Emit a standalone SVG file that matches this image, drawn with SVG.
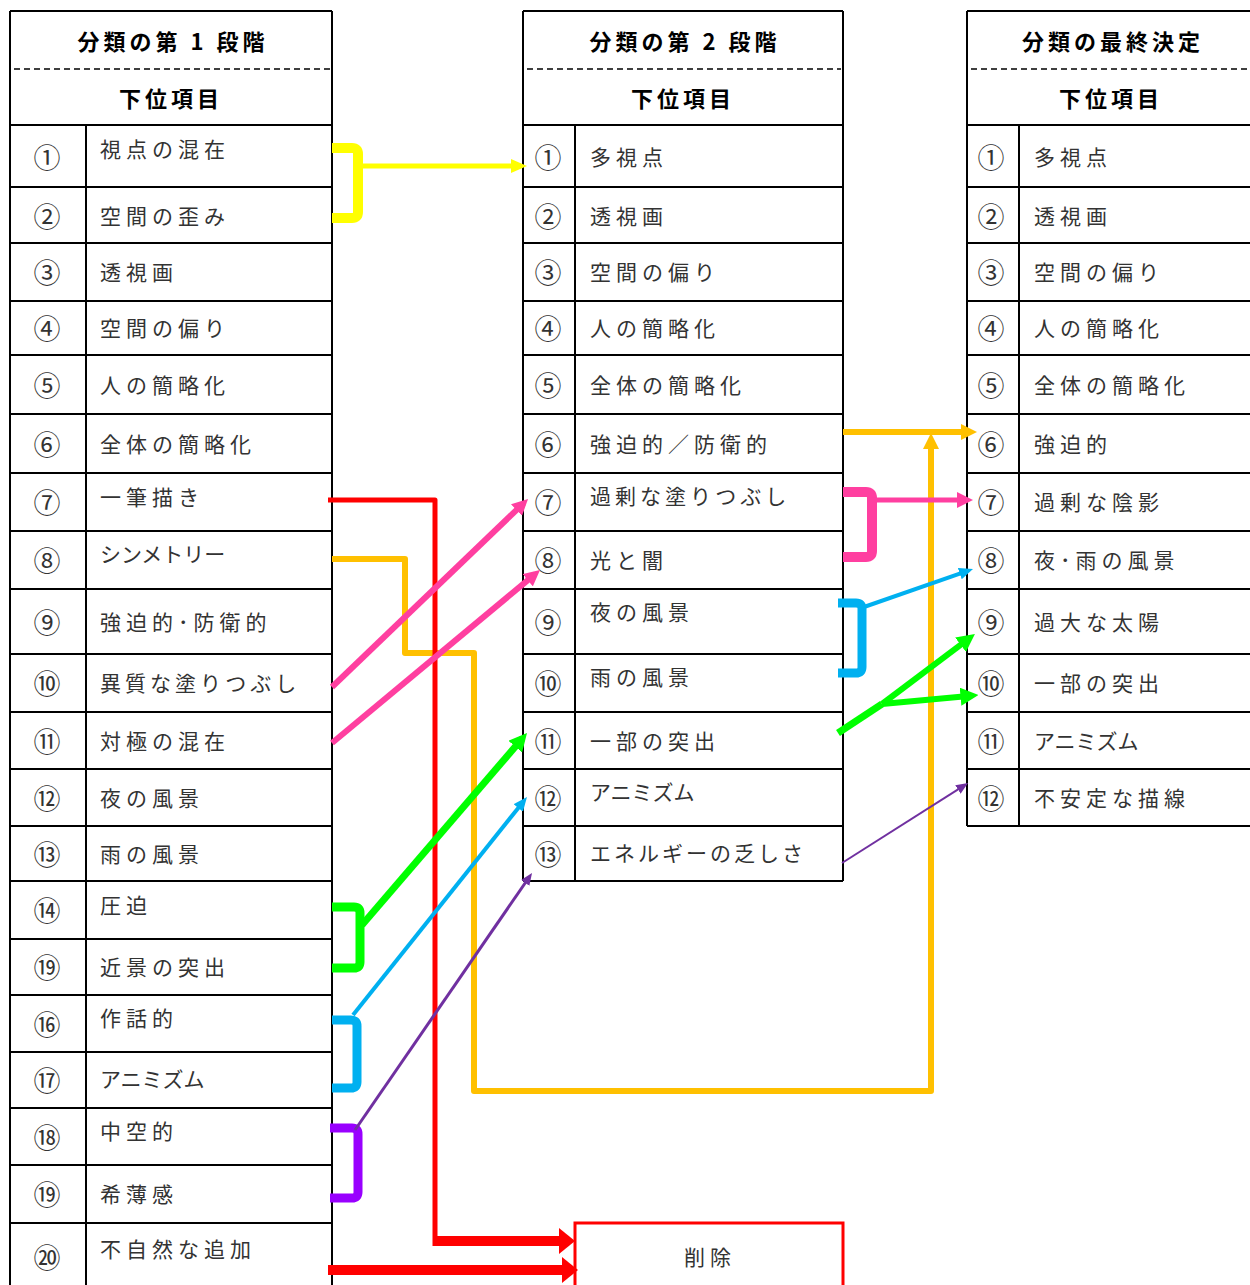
<svg xmlns="http://www.w3.org/2000/svg" width="1250" height="1285" viewBox="0 0 1250 1285">
<style>
.grid{fill:none;stroke:#000;stroke-width:2}
.dash{fill:none;stroke:#000;stroke-width:1.6;stroke-dasharray:6 4}
.hd{font-family:'Noto Sans CJK JP','Noto Sans CJK SC',sans-serif;font-size:22px;font-weight:bold;letter-spacing:4px;text-anchor:middle;dominant-baseline:central;fill:#000}
.tx{font-family:'Noto Sans CJK JP','Noto Sans CJK SC',sans-serif;font-size:21px;letter-spacing:5px;dominant-baseline:central;fill:#333}
.kn{letter-spacing:0px}
.k3{letter-spacing:3px}
.k4{letter-spacing:4px}
.nm{font-family:'Noto Sans CJK JP','Noto Sans CJK SC',sans-serif;font-size:27px;text-anchor:middle;dominant-baseline:central;fill:#333}
.c{fill:none;stroke-linejoin:round}
</style>
<defs>
<marker id="mY" viewBox="0 0 10 10" refX="6" refY="5" markerUnits="userSpaceOnUse" markerWidth="16" markerHeight="14" orient="auto" preserveAspectRatio="none"><path d="M0,0 L10,5 L0,10 z" fill="#FFFF00"/></marker>
<marker id="mR" viewBox="0 0 10 10" refX="6" refY="5" markerUnits="userSpaceOnUse" markerWidth="16" markerHeight="26" orient="auto" preserveAspectRatio="none"><path d="M0,0 L10,5 L0,10 z" fill="#FF0000"/></marker>
<marker id="mO" viewBox="0 0 10 10" refX="6" refY="5" markerUnits="userSpaceOnUse" markerWidth="16" markerHeight="16" orient="auto" preserveAspectRatio="none"><path d="M0,0 L10,5 L0,10 z" fill="#FFC000"/></marker>
<marker id="mP" viewBox="0 0 10 10" refX="6" refY="5" markerUnits="userSpaceOnUse" markerWidth="16" markerHeight="16" orient="auto" preserveAspectRatio="none"><path d="M0,0 L10,5 L0,10 z" fill="#FF3FA0"/></marker>
<marker id="mB" viewBox="0 0 10 10" refX="6" refY="5" markerUnits="userSpaceOnUse" markerWidth="14" markerHeight="12" orient="auto" preserveAspectRatio="none"><path d="M0,0 L10,5 L0,10 z" fill="#00B0F0"/></marker>
<marker id="mG" viewBox="0 0 10 10" refX="6" refY="5" markerUnits="userSpaceOnUse" markerWidth="18" markerHeight="18" orient="auto" preserveAspectRatio="none"><path d="M0,0 L10,5 L0,10 z" fill="#00FF00"/></marker>
<marker id="mV" viewBox="0 0 10 10" refX="6" refY="5" markerUnits="userSpaceOnUse" markerWidth="12" markerHeight="10" orient="auto" preserveAspectRatio="none"><path d="M0,0 L10,5 L0,10 z" fill="#7030A0"/></marker>
</defs>
<rect width="1250" height="1285" fill="#fff"/>

<g id="table1">
<path class="grid" d="M10,11 H332 M10,11 V1285 M332,11 V1285 M10,125 H332 M86,125 V1285 M10,187 H332 M10,243 H332 M10,301 H332 M10,355 H332 M10,414 H332 M10,473 H332 M10,531 H332 M10,589 H332 M10,654 H332 M10,712 H332 M10,769 H332 M10,826 H332 M10,881 H332 M10,939 H332 M10,995 H332 M10,1052 H332 M10,1108 H332 M10,1165 H332 M10,1223 H332"/>
<path class="dash" d="M14,69 H330"/>
<text class="hd" x="173" y="40">分類の第 1 段階</text>
<text class="hd" x="171" y="97">下位項目</text>
<g id="t1r1"><text class="nm" x="47" y="156">①</text><text class="tx" x="100" y="148">視点の混在</text></g>
<g id="t1r2"><text class="nm" x="47" y="215">②</text><text class="tx" x="100" y="215">空間の歪み</text></g>
<g id="t1r3"><text class="nm" x="47" y="271">③</text><text class="tx" x="100" y="271">透視画</text></g>
<g id="t1r4"><text class="nm" x="47" y="327">④</text><text class="tx" x="100" y="327">空間の偏り</text></g>
<g id="t1r5"><text class="nm" x="47" y="384">⑤</text><text class="tx" x="100" y="384">人の簡略化</text></g>
<g id="t1r6"><text class="nm" x="47" y="443">⑥</text><text class="tx" x="100" y="443">全体の簡略化</text></g>
<g id="t1r7"><text class="nm" x="47" y="501">⑦</text><text class="tx" x="100" y="496">一筆描き</text></g>
<g id="t1r8"><text class="nm" x="47" y="559">⑧</text><text class="tx kn" x="100" y="553">シンメトリー</text></g>
<g id="t1r9"><text class="nm" x="47" y="621">⑨</text><text class="tx" x="100" y="621">強迫的･防衛的</text></g>
<g id="t1r10"><text class="nm" x="47" y="682">⑩</text><text class="tx k4" x="100" y="682">異質な塗りつぶし</text></g>
<g id="t1r11"><text class="nm" x="47" y="740">⑪</text><text class="tx" x="100" y="740">対極の混在</text></g>
<g id="t1r12"><text class="nm" x="47" y="797">⑫</text><text class="tx" x="100" y="797">夜の風景</text></g>
<g id="t1r13"><text class="nm" x="47" y="853">⑬</text><text class="tx" x="100" y="853">雨の風景</text></g>
<g id="t1r14"><text class="nm" x="47" y="909">⑭</text><text class="tx" x="100" y="904">圧迫</text></g>
<g id="t1r15"><text class="nm" x="47" y="966">⑲</text><text class="tx" x="100" y="966">近景の突出</text></g>
<g id="t1r16"><text class="nm" x="47" y="1023">⑯</text><text class="tx" x="100" y="1017">作話的</text></g>
<g id="t1r17"><text class="nm" x="47" y="1079">⑰</text><text class="tx kn" x="100" y="1078">アニミズム</text></g>
<g id="t1r18"><text class="nm" x="47" y="1136">⑱</text><text class="tx" x="100" y="1130">中空的</text></g>
<g id="t1r19"><text class="nm" x="47" y="1193">⑲</text><text class="tx" x="100" y="1193">希薄感</text></g>
<g id="t1r20"><text class="nm" x="47" y="1256">⑳</text><text class="tx" x="100" y="1248">不自然な追加</text></g>
</g>

<g id="table2">
<path class="grid" d="M523,11 H843 M523,11 V881 M843,11 V881 M523,125 H843 M575,125 V881 M523,187 H843 M523,243 H843 M523,301 H843 M523,355 H843 M523,414 H843 M523,473 H843 M523,531 H843 M523,589 H843 M523,654 H843 M523,712 H843 M523,769 H843 M523,826 H843 M523,881 H843"/>
<path class="dash" d="M527,69 H841"/>
<text class="hd" x="685" y="40">分類の第 2 段階</text>
<text class="hd" x="683" y="97">下位項目</text>
<g id="t2r1"><text class="nm" x="548" y="156">①</text><text class="tx" x="590" y="156">多視点</text></g>
<g id="t2r2"><text class="nm" x="548" y="215">②</text><text class="tx" x="590" y="215">透視画</text></g>
<g id="t2r3"><text class="nm" x="548" y="271">③</text><text class="tx" x="590" y="271">空間の偏り</text></g>
<g id="t2r4"><text class="nm" x="548" y="327">④</text><text class="tx" x="590" y="327">人の簡略化</text></g>
<g id="t2r5"><text class="nm" x="548" y="384">⑤</text><text class="tx" x="590" y="384">全体の簡略化</text></g>
<g id="t2r6"><text class="nm" x="548" y="443">⑥</text><text class="tx" x="590" y="443">強迫的／防衛的</text></g>
<g id="t2r7"><text class="nm" x="548" y="501">⑦</text><text class="tx k4" x="590" y="495">過剰な塗りつぶし</text></g>
<g id="t2r8"><text class="nm" x="548" y="559">⑧</text><text class="tx" x="590" y="559">光と闇</text></g>
<g id="t2r9"><text class="nm" x="548" y="621">⑨</text><text class="tx" x="590" y="611">夜の風景</text></g>
<g id="t2r10"><text class="nm" x="548" y="682">⑩</text><text class="tx" x="590" y="676">雨の風景</text></g>
<g id="t2r11"><text class="nm" x="548" y="740">⑪</text><text class="tx" x="590" y="740">一部の突出</text></g>
<g id="t2r12"><text class="nm" x="548" y="797">⑫</text><text class="tx kn" x="590" y="791">アニミズム</text></g>
<g id="t2r13"><text class="nm" x="548" y="853">⑬</text><text class="tx k3" x="590" y="852">エネルギーの乏しさ</text></g>
</g>

<g id="table3">
<path class="grid" d="M967,11 H1250 M967,11 V826 M967,125 H1250 M1019,125 V826 M967,187 H1250 M967,243 H1250 M967,301 H1250 M967,355 H1250 M967,414 H1250 M967,473 H1250 M967,531 H1250 M967,589 H1250 M967,654 H1250 M967,712 H1250 M967,769 H1250 M967,826 H1250"/>
<path class="dash" d="M971,69 H1250"/>
<text class="hd" x="1113" y="40">分類の最終決定</text>
<text class="hd" x="1111" y="97">下位項目</text>
<g id="t3r1"><text class="nm" x="991" y="156">①</text><text class="tx" x="1034" y="156">多視点</text></g>
<g id="t3r2"><text class="nm" x="991" y="215">②</text><text class="tx" x="1034" y="215">透視画</text></g>
<g id="t3r3"><text class="nm" x="991" y="271">③</text><text class="tx" x="1034" y="271">空間の偏り</text></g>
<g id="t3r4"><text class="nm" x="991" y="327">④</text><text class="tx" x="1034" y="327">人の簡略化</text></g>
<g id="t3r5"><text class="nm" x="991" y="384">⑤</text><text class="tx" x="1034" y="384">全体の簡略化</text></g>
<g id="t3r6"><text class="nm" x="991" y="443">⑥</text><text class="tx" x="1034" y="443">強迫的</text></g>
<g id="t3r7"><text class="nm" x="991" y="501">⑦</text><text class="tx" x="1034" y="501">過剰な陰影</text></g>
<g id="t3r8"><text class="nm" x="991" y="559">⑧</text><text class="tx" x="1034" y="559">夜･雨の風景</text></g>
<g id="t3r9"><text class="nm" x="991" y="621">⑨</text><text class="tx" x="1034" y="621">過大な太陽</text></g>
<g id="t3r10"><text class="nm" x="991" y="682">⑩</text><text class="tx" x="1034" y="682">一部の突出</text></g>
<g id="t3r11"><text class="nm" x="991" y="740">⑪</text><text class="tx kn" x="1034" y="740">アニミズム</text></g>
<g id="t3r12"><text class="nm" x="991" y="797">⑫</text><text class="tx" x="1034" y="797">不安定な描線</text></g>
</g>

<g id="delete">
<rect x="575" y="1223" width="268" height="80" fill="none" stroke="#FF0000" stroke-width="3"/>
<text class="tx" x="710" y="1256" text-anchor="middle">削除</text>
</g>

<g id="connectors">
<path class="c" d="M332,148 H352 Q358,148 358,154 V212 Q358,218 352,218 H332" stroke="#FFFF00" stroke-width="10"/>
<path class="c" d="M358,166 H520.6" stroke="#FFFF00" stroke-width="5" marker-end="url(#mY)"/>
<path class="c" d="M332,559 H405 V653 H474 V1091 H931 V439.4" stroke="#FFC000" stroke-width="6" stroke-linejoin="miter" marker-end="url(#mO)"/>
<path class="c" d="M843,432 H970.6" stroke="#FFC000" stroke-width="6" marker-end="url(#mO)"/>
<path class="c" d="M328,500 H435 V1246" stroke="#FF0000" stroke-width="5" stroke-linejoin="miter"/>
<path class="c" d="M433,1241 H568.6" stroke="#FF0000" stroke-width="10" marker-end="url(#mR)"/>
<path class="c" d="M328,1270 H571.6" stroke="#FF0000" stroke-width="10" marker-end="url(#mR)"/>
<path class="c" d="M332,687 L523.4,503.4" stroke="#FF3FA0" stroke-width="6" marker-end="url(#mP)"/>
<path class="c" d="M332,743 L535.1,574.1" stroke="#FF3FA0" stroke-width="6" marker-end="url(#mP)"/>
<path class="c" d="M843,492 H866 Q872,492 872,498 V551 Q872,557 866,557 H843" stroke="#FF3FA0" stroke-width="10"/>
<path class="c" d="M872,500 H966.6" stroke="#FF3FA0" stroke-width="5" marker-end="url(#mP)"/>
<path class="c" d="M332,907 H354 Q360,907 360,913 V962 Q360,968 354,968 H332" stroke="#00FF00" stroke-width="9"/>
<path class="c" d="M362,925 L522.3,738.5" stroke="#00FF00" stroke-width="7" marker-end="url(#mG)"/>
<path class="c" d="M838,733 L882,704" stroke="#00FF00" stroke-width="7"/>
<path class="c" d="M882,704 L969.2,638.3" stroke="#00FF00" stroke-width="6" marker-end="url(#mG)"/>
<path class="c" d="M882,704 L971.3,695.7" stroke="#00FF00" stroke-width="6" marker-end="url(#mG)"/>
<path class="c" d="M332,1020 H351 Q357,1020 357,1026 V1082 Q357,1088 351,1088 H332" stroke="#00B0F0" stroke-width="9"/>
<path class="c" d="M353,1015 L523.5,801.4" stroke="#00B0F0" stroke-width="4" marker-end="url(#mB)"/>
<path class="c" d="M838,603 H856 Q862,603 862,609 V667 Q862,673 856,673 H838" stroke="#00B0F0" stroke-width="9"/>
<path class="c" d="M864,607 L967.7,570.8" stroke="#00B0F0" stroke-width="4" marker-end="url(#mB)"/>
<path class="c" d="M330,1128 H352 Q358,1128 358,1134 V1192 Q358,1198 352,1198 H330" stroke="#9900FF" stroke-width="9"/>
<path class="c" d="M355,1130 L529.3,877" stroke="#7030A0" stroke-width="3" marker-end="url(#mV)"/>
<path class="c" d="M842,863 L964,785.6" stroke="#7030A0" stroke-width="2" marker-end="url(#mV)"/>
</g>
</svg>
